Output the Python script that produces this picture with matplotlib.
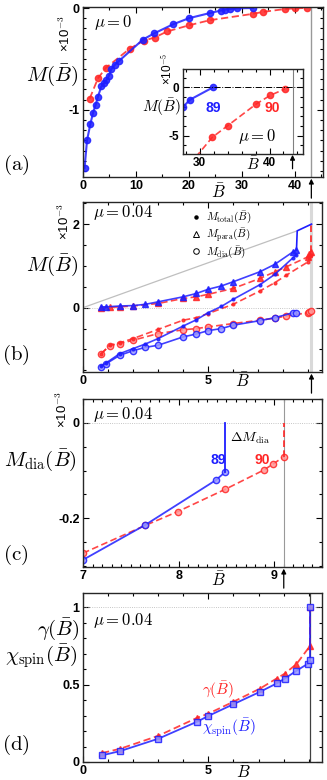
import matplotlib
matplotlib.use("Agg")
import matplotlib.pyplot as plt
from matplotlib.lines import Line2D
from matplotlib.ticker import MultipleLocator, FixedLocator, FormatStrFormatter

plt.rcParams["mathtext.fontset"] = "cm"
plt.rcParams["axes.unicode_minus"] = False
plt.rcParams["font.family"] = ["Liberation Sans", "DejaVu Sans"]

BLUE = "#1e1eff"
RED = "#ff2626"

# (a) mu = 0, M in units of 1e-3
a_blue_B = [0.3, 0.76, 1.39, 1.89, 2.39, 2.83, 3.46, 3.97, 4.4, 4.85, 5.35, 5.98, 6.8,
            11.3, 13.4, 17.0, 20.0, 23.9, 26.0, 26.8, 27.7, 29.0, 32.1]
a_blue_M = [-1.57, -1.30, -1.14, -1.03, -0.95, -0.87, -0.77, -0.74, -0.71, -0.67, -0.60, -0.56, -0.52,
            -0.31, -0.25, -0.16, -0.10, -0.05, -0.025, -0.016, -0.01, -0.003, 0.0]
a_red_B = [1.26, 2.83, 4.28, 8.8, 11.5, 13.5, 15.9, 20.0, 23.9, 32.1, 34.0, 38.1, 40.1, 42.2]
a_red_M = [-0.89, -0.69, -0.59, -0.40, -0.32, -0.29, -0.23, -0.17, -0.12, -0.057, -0.038, -0.01, -0.003, 0.0]
a_Bc = 43.1

# (a) inset, M in units of 1e-5
ins_blue_B = [26.8, 27.6, 28.6, 31.9]
ins_blue_M = [-2.6, -2.03, -1.28, 0.0]
ins_red_B = [23.9, 31.8, 34.0, 38.1, 40.1, 42.2]
ins_red_M = [-12.0, -5.17, -3.97, -1.72, -0.83, -0.17]
ins_Bc = 43.3

# (b) mu = 0.04, M in units of 1e-3
b_blue_B = [0.73, 0.93, 1.47, 2.0, 2.49, 3.0, 4.0, 4.53, 5.0, 5.53, 6.0, 7.07, 7.67, 8.4, 8.53]
b_blue_para = [0.02, 0.02, 0.04, 0.05, 0.08, 0.14, 0.26, 0.34, 0.44, 0.52, 0.62, 0.86, 1.04, 1.34, 1.38]
b_blue_dia = [-1.42, -1.34, -1.14, -1.03, -0.95, -0.90, -0.70, -0.63, -0.55, -0.50, -0.42, -0.31, -0.24, -0.12, -0.12]
b_blue_total = [-1.40, -1.32, -1.10, -0.98, -0.87, -0.74, -0.44, -0.29, -0.12, 0.03, 0.20, 0.55, 0.80, 1.20, 1.27]
b_blue_jump_B = [8.53, 8.56, 9.13]
b_blue_jump_M = [1.38, 1.84, 2.0]
b_red_B = [0.73, 1.07, 1.47, 2.0, 3.0, 4.0, 4.53, 5.0, 6.0, 7.07, 7.67, 8.13, 9.0, 9.05, 9.1]
b_red_para = [0.0, 0.01, 0.02, 0.04, 0.10, 0.22, 0.26, 0.32, 0.46, 0.70, 0.86, 0.98, 1.22, 1.29, 1.34]
b_red_dia = [-1.10, -0.91, -0.86, -0.78, -0.62, -0.53, -0.50, -0.46, -0.38, -0.30, -0.25, -0.20, -0.12, -0.10, -0.08]
b_red_total = [-1.10, -0.90, -0.84, -0.74, -0.52, -0.30, -0.24, -0.14, 0.08, 0.40, 0.60, 0.78, 1.10, 1.19, 1.26]
b_red_jump_B = [9.1, 9.1]
b_red_jump_M = [1.34, 2.0]
b_pauli_B = [0.0, 8.56]
b_pauli_M = [0.0, 1.84]
b_Bc = 9.13

# (c) M_dia, units of 1e-3
c_blue_B = [7.0, 7.65, 8.39, 8.49]
c_blue_M = [-0.287, -0.214, -0.120, -0.1025]
c_blue_jump_B = [8.49, 8.49]
c_blue_jump_M = [-0.1025, 0.0]
c_red_B = [7.0, 7.65, 7.99, 8.49, 8.89, 8.99, 9.1]
c_red_M = [-0.273, -0.215, -0.186, -0.139, -0.099, -0.086, -0.071]
c_red_jump_B = [9.1, 9.1]
c_red_jump_M = [-0.071, 0.0]
c_Bc = 9.1

# (d) gamma and chi_spin
d_B = [0.76, 1.49, 3.01, 4.54, 5.0, 6.0, 7.06, 7.72, 8.05, 8.51, 9.05, 9.05]
d_gamma = [0.058, 0.086, 0.17, 0.285, 0.313, 0.39, 0.475, 0.54, 0.572, 0.633, 0.75, 1.0]
d_chi_B = [0.76, 1.49, 3.01, 4.54, 5.0, 6.0, 7.06, 7.72, 8.05, 8.51, 8.98, 9.05, 9.05]
d_chi = [0.043, 0.071, 0.151, 0.26, 0.298, 0.374, 0.454, 0.508, 0.54, 0.59, 0.637, 0.659, 1.0]
d_Bc = 9.05

W, H = 327, 780
fig = plt.figure(figsize=(W / 100, H / 100), dpi=100)


def box(x0, y0, x1, y1):
    return [x0 / W, 1 - y1 / H, (x1 - x0) / W, (y1 - y0) / H]


def ftext(x, y, s, **kw):
    kw.setdefault("ha", "center")
    kw.setdefault("va", "center")
    fig.text(x / W, 1 - y / H, s, **kw)


def style(ax, xmaj, xmin, ymaj, ymin, fs=9):
    ax.xaxis.set_major_locator(FixedLocator(xmaj))
    ax.xaxis.set_minor_locator(MultipleLocator(xmin))
    ax.yaxis.set_major_locator(FixedLocator(ymaj))
    ax.yaxis.set_minor_locator(MultipleLocator(ymin))
    ax.xaxis.set_major_formatter(FormatStrFormatter("%g"))
    ax.yaxis.set_major_formatter(FormatStrFormatter("%g"))
    ax.tick_params(which="both", direction="in", top=True, right=True, labelsize=fs, pad=2.5, width=0.8)
    ax.tick_params(which="major", length=4)
    ax.tick_params(which="minor", length=2.5)
    for lab in ax.get_xticklabels() + ax.get_yticklabels():
        lab.set_fontweight("bold")
    for sp in ax.spines.values():
        sp.set_linewidth(1.0)
        sp.set_color("0.15")


def arrow(ax, x, length=14):
    ax.annotate("", xy=(x, -0.01), xycoords=ax.get_xaxis_transform(),
                xytext=(0, -length), textcoords="offset points",
                arrowprops=dict(arrowstyle="-|>", color="k", lw=0.9, shrinkA=0, shrinkB=0,
                                mutation_scale=7),
                annotation_clip=False)


def times10(x, y, exp, fs=9.5):
    # rotated "x10^exp" scale mark next to the y axis
    ftext(x, y, "×10$^{%s}$" % exp, fontsize=fs, rotation=90)


# ---------------- (a) ----------------
ax = fig.add_axes(box(83, 7, 323, 177))
ax.plot(a_red_B, a_red_M, "--o", color=RED, lw=1.3, ms=4.5, alpha=0.85, dashes=(4, 2))
ax.plot(a_blue_B, a_blue_M, "-o", color=BLUE, lw=1.5, ms=4.5, alpha=0.85)
ax.axvline(a_Bc, color="0.6", lw=1.0)
ax.set_xlim(0, 45.3)
ax.set_ylim(-1.66, 0.01)
style(ax, [0, 10, 20, 30, 40], 5, [-1, 0], 0.1)
arrow(ax, a_Bc)

ins = fig.add_axes(box(183, 69, 303, 154))
ins.plot(ins_red_B, ins_red_M, "--o", color=RED, lw=1.2, ms=4.5, alpha=0.85, dashes=(4, 2))
ins.plot(ins_blue_B, ins_blue_M, "-o", color=BLUE, lw=1.5, ms=4.5, alpha=0.85)
ins.axhline(0, color="k", lw=0.7, ls="-.")
ins.axvline(ins_Bc, color="0.5", lw=0.8)
ins.set_xlim(27.6, 44.8)
ins.set_ylim(-6.9, 1.9)
style(ins, [30, 40], 2, [-5, 0], 1, fs=8.5)
arrow(ins, ins_Bc, length=10)

ftext(113, 23, r"$\mu=0$", fontsize=12)
ftext(52, 75, r"$M(\bar{B})$", fontsize=15)
times10(65, 34, "-3")
ftext(16, 165, r"$\mathrm{(a)}$", fontsize=15)
ftext(218, 192, r"$\bar{B}$", fontsize=12)
ftext(161, 107, r"$M(\bar{B})$", fontsize=11)
times10(168, 69, "-5", fs=8.5)
ftext(213, 108, "89", fontsize=10, color=BLUE, fontweight="bold")
ftext(272, 108, "90", fontsize=10, color=RED, fontweight="bold")
ftext(257, 137, r"$\mu=0$", fontsize=12)
ftext(253, 164, r"$\bar{B}$", fontsize=11)

# ---------------- (b) ----------------
ax = fig.add_axes(box(83, 202, 322, 372))
ax.plot(b_pauli_B, b_pauli_M, color="0.75", lw=0.9)
ax.axhline(0, color="0.7", lw=0.6, ls=":")
ax.axvline(b_Bc, color="0.85", lw=2.2)
ax.plot(b_red_B, b_red_para, "--^", color=RED, lw=1.2, ms=4, alpha=0.85, dashes=(4, 2))
ax.plot(b_red_B, b_red_dia, "--o", color=RED, lw=1.2, ms=4.5, mfc=(1, 0.6, 0.6, 0.5), alpha=0.85, dashes=(4, 2))
ax.plot(b_red_B, b_red_total, "--o", color=RED, lw=1.2, ms=2, alpha=0.85, dashes=(4, 2))
ax.plot(b_red_jump_B, b_red_jump_M, "--", color=RED, lw=1.2, dashes=(4, 2))
ax.plot(b_blue_B, b_blue_para, "-^", color=BLUE, lw=1.2, ms=4, alpha=0.85)
ax.plot(b_blue_B, b_blue_dia, "-o", color=BLUE, lw=1.2, ms=4.5, mfc=(0.6, 0.6, 1, 0.5), alpha=0.85)
ax.plot(b_blue_B, b_blue_total, "-o", color=BLUE, lw=1.2, ms=2, alpha=0.85)
ax.plot(b_blue_jump_B, b_blue_jump_M, "-", color=BLUE, lw=1.2)
ax.set_xlim(0, 9.55)
ax.set_ylim(-1.54, 2.53)
style(ax, [0, 5], 1, [0, 2], 0.5)
arrow(ax, b_Bc)
handles = [Line2D([], [], ls="", marker="o", ms=2.2, color="k"),
           Line2D([], [], ls="", marker="^", ms=4, mfc="none", mec="k", mew=0.7),
           Line2D([], [], ls="", marker="o", ms=4, mfc="none", mec="k", mew=0.7)]
labels = [r"$M_{\rm total}(\bar{B})$", r"$M_{\rm para}(\bar{B})$", r"$M_{\rm dia}(\bar{B})$"]
ax.legend(handles, labels, loc="upper left", bbox_to_anchor=(0.42, 1.0), frameon=False,
          fontsize=8, handlelength=0.8, handletextpad=0.5, labelspacing=0.05, borderpad=0.2)

ftext(123, 213, r"$\mu=0.04$", fontsize=12)
ftext(52, 265, r"$M(\bar{B})$", fontsize=15)
times10(64, 222, "-3")
ftext(16, 355, r"$\mathrm{(b)}$", fontsize=15)
ftext(242, 381, r"$\bar{B}$", fontsize=12)

# ---------------- (c) ----------------
ax = fig.add_axes(box(83, 399, 322, 567))
ax.axhline(0, color="0.7", lw=0.6, ls=":")
ax.axvline(c_Bc, color="0.6", lw=0.8)
ax.plot(c_red_B, c_red_M, "--o", color=RED, lw=1.2, ms=4.5, mfc=(1, 0.6, 0.6, 0.5), alpha=0.85, dashes=(4, 2))
ax.plot(c_red_jump_B, c_red_jump_M, "--", color=RED, lw=1.2, dashes=(4, 2))
ax.plot(c_blue_B, c_blue_M, "-o", color=BLUE, lw=1.3, ms=4.5, mfc=(0.6, 0.6, 1, 0.5), alpha=0.85)
ax.plot(c_blue_jump_B, c_blue_jump_M, "-", color=BLUE, lw=1.3)
ax.set_xlim(7, 9.5)
ax.set_ylim(-0.302, 0.05)
style(ax, [7, 8, 9], 0.1, [-0.2, 0], 0.05)
arrow(ax, c_Bc)

ftext(123, 414, r"$\mu=0.04$", fontsize=12)
ftext(40, 460, r"$M_{\rm dia}(\bar{B})$", fontsize=15)
times10(62, 410, "-3")
ftext(250, 438, r"$\Delta M_{\rm dia}$", fontsize=10)
ftext(218, 460, "89", fontsize=10, color=BLUE, fontweight="bold")
ftext(262, 460, "90", fontsize=10, color=RED, fontweight="bold")
ftext(16, 555, r"$\mathrm{(c)}$", fontsize=15)
ftext(218, 580, r"$\bar{B}$", fontsize=12)

# ---------------- (d) ----------------
ax = fig.add_axes(box(83, 593, 322, 762))
ax.axhline(1, color="0.7", lw=0.6, ls=":")
ax.axvline(d_Bc, color="0.25", lw=0.9)
ax.plot(d_B, d_gamma, "--^", color=RED, lw=1.3, ms=4.5, alpha=0.85, dashes=(4, 2))
ax.plot(d_chi_B, d_chi, "-s", color=BLUE, lw=1.3, ms=4, mfc=(0.6, 0.6, 1, 0.5), alpha=0.85)
ax.set_xlim(0, 9.53)
ax.set_ylim(0, 1.093)
style(ax, [0, 5], 1, [0, 0.5, 1], 0.1)

ftext(123, 620, r"$\mu=0.04$", fontsize=12)
ftext(58, 629, r"$\gamma(\bar{B})$", fontsize=15)
ftext(41, 657, r"$\chi_{\rm spin}(\bar{B})$", fontsize=15)
ftext(218, 690, r"$\gamma(\bar{B})$", fontsize=11, color=RED)
ftext(229, 727, r"$\chi_{\rm spin}(\bar{B})$", fontsize=11, color=BLUE)
ftext(16, 745, r"$\mathrm{(d)}$", fontsize=15)
ftext(243, 772, r"$\bar{B}$", fontsize=12)

fig.savefig("out.png", dpi=100)
